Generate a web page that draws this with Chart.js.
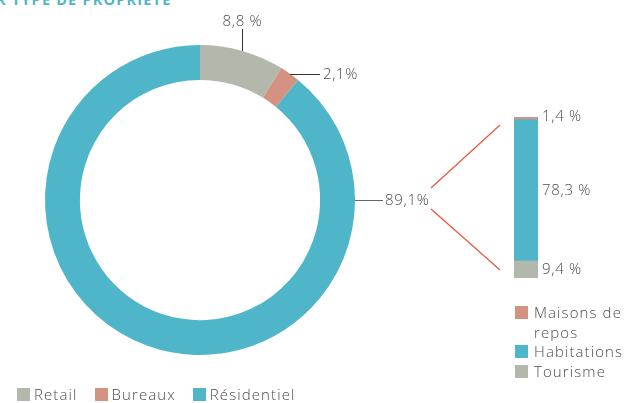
<!DOCTYPE html>
<html>
<head>
<meta charset="utf-8">
<script src="https://cdn.jsdelivr.net/npm/chart.js@4"></script>
<style>
  html, body { margin:0; padding:0; background:#fff; width:636px; height:403px; overflow:hidden; position:relative; font-family: "Open Sans", "Noto Sans", sans-serif; }
  canvas { position:absolute; left:0; top:0; }
  #title { position:absolute; left:-4px; top:-10px; font: bold 14.5px "Open Sans", "Noto Sans", sans-serif; letter-spacing:1.2px; color:#4fb5c8; white-space:nowrap; }
  .leg { position:absolute; font-size:15px; font-weight:300; letter-spacing:1.1px; color:#4d4d4d; line-height:19.5px; }
  .leg .sw { display:inline-block; width:13px; height:13px; vertical-align:-1px; margin-right:4px; }
  #legMain { left:17px; top:385px; white-space:nowrap; }
  #legMain span.item { margin-right:17px; }
  #legSub { left:515px; top:303px; width:121px; }
  #legSub div { position:relative; padding-left:19px; }
  #legSub .sw { position:absolute; left:0; top:3px; }
</style>
</head>
<body>
<div id="title">R TYPE DE PROPRIÉTÉ</div>
<canvas id="donut" width="636" height="403"></canvas>
<canvas id="bar" width="636" height="403"></canvas>
<div class="leg" id="legMain"></div>
<div class="leg" id="legSub"></div>
<script>
// ---- data ----
const mainCategories = ["Retail", "Bureaux", "Résidentiel"];
const mainValues = [8.8, 2.1, 89.1];
const mainLabels = ["8,8 %", "2,1%", "89,1%"];
const mainColors = ["#b3b8ad", "#d49282", "#4fb5c8"];

const subCategories = ["Tourisme", "Habitations", "Maisons de repos"]; // bottom to top
const subValues = [9.4, 78.3, 1.4];
const subLabels = ["9,4 %", "78,3 %", "1,4 %"];
const subColors = ["#b3b8ad", "#4fb5c8", "#d49282"];
const subTotal = 89.1;

const textColor = "#4d4d4d";
const fontSpec = '300 15px "Open Sans", "Noto Sans", sans-serif';
const labelSpacing = '0.7px';

// ---- donut labels plugin ----
const donutLabels = {
  id: 'donutLabels',
  afterDatasetsDraw(chart) {
    const ctx = chart.ctx;
    const arcs = chart.getDatasetMeta(0).data;
    ctx.save();
    ctx.font = fontSpec;
    ctx.letterSpacing = labelSpacing;
    ctx.fillStyle = textColor;
    ctx.strokeStyle = "#333";
    ctx.lineWidth = 1;
    arcs.forEach((arc, i) => {
      const R = arc.outerRadius;
      if (i === 0) {
        const a = (arc.startAngle + arc.endAngle) / 2;
        const x = Math.round(arc.x + R * Math.cos(a)) + 0.5;
        const y = arc.y + R * Math.sin(a);
        ctx.beginPath(); ctx.moveTo(x, y); ctx.lineTo(x, y - 22); ctx.stroke();
        ctx.textAlign = 'center'; ctx.textBaseline = 'alphabetic';
        ctx.fillText(mainLabels[i], x, y - 25);
      } else if (i === 1) {
        const a = (arc.startAngle + arc.endAngle) / 2;
        const x = arc.x + R * Math.cos(a);
        const y = Math.round(arc.y + R * Math.sin(a)) + 0.5;
        ctx.beginPath(); ctx.moveTo(x, y); ctx.lineTo(x + 30, y); ctx.stroke();
        ctx.textAlign = 'left'; ctx.textBaseline = 'middle';
        ctx.fillText(mainLabels[i], x + 33, y);
      } else {
        ctx.strokeStyle = "#666";
        const x = arc.x + R;
        const y = Math.round(arc.y) + 0.5;
        ctx.beginPath(); ctx.moveTo(x, y); ctx.lineTo(x + 28, y); ctx.stroke();
        ctx.textAlign = 'left'; ctx.textBaseline = 'middle';
        ctx.fillText(mainLabels[i], x + 30, y);
      }
    });
    ctx.restore();
  }
};

new Chart(document.getElementById('donut'), {
  type: 'doughnut',
  data: {
    labels: mainCategories,
    datasets: [{ data: mainValues, backgroundColor: mainColors, borderWidth: 0 }]
  },
  options: {
    responsive: false,
    animation: false,
    cutout: '77.5%',
    rotation: 0,
    layout: { padding: { left: 45, right: 281, top: 45, bottom: 48 } },
    plugins: { legend: { display: false }, tooltip: { enabled: false } }
  },
  plugins: [donutLabels]
});

// ---- bar labels + connectors plugin ----
const barLabels = {
  id: 'barLabels',
  afterDatasetsDraw(chart) {
    const ctx = chart.ctx;
    const area = chart.chartArea;
    ctx.save();
    ctx.strokeStyle = "#e8553a";
    ctx.lineWidth = 1.2;
    ctx.beginPath();
    ctx.moveTo(431, 188); ctx.lineTo(area.left - 14, area.top + 8);
    ctx.moveTo(431, 209); ctx.lineTo(area.left - 14, area.bottom - 8);
    ctx.stroke();
    ctx.font = fontSpec;
    ctx.letterSpacing = labelSpacing;
    ctx.fillStyle = textColor;
    ctx.textAlign = 'left';
    ctx.textBaseline = 'middle';
    chart.data.datasets.forEach((ds, i) => {
      const el = chart.getDatasetMeta(i).data[0];
      let y;
      if (i === 0) y = el.y + 9;
      else if (i === 2) y = el.y;
      else y = (el.y + el.base) / 2;
      ctx.fillText(subLabels[i], el.x + el.width / 2 + 4, y);
    });
    ctx.restore();
  }
};

new Chart(document.getElementById('bar'), {
  type: 'bar',
  data: {
    labels: [""],
    datasets: subCategories.map((c, i) => ({
      label: c, data: [subValues[i]], backgroundColor: subColors[i], borderWidth: 0,
      barPercentage: 1, categoryPercentage: 1
    }))
  },
  options: {
    responsive: false,
    animation: false,
    layout: { padding: { left: 514, right: 98, top: 117, bottom: 125 } },
    scales: {
      x: { stacked: true, display: false },
      y: { stacked: true, display: false, min: 0, max: subTotal }
    },
    plugins: { legend: { display: false }, tooltip: { enabled: false } }
  },
  plugins: [barLabels]
});

// ---- HTML legends ----
const legMain = document.getElementById('legMain');
mainCategories.forEach((c, i) => {
  const s = document.createElement('span');
  s.className = 'item';
  s.innerHTML = '<span class="sw" style="background:' + mainColors[i] + '"></span>' + c;
  legMain.appendChild(s);
});
const legSub = document.getElementById('legSub');
for (let i = subCategories.length - 1; i >= 0; i--) {
  const d = document.createElement('div');
  d.innerHTML = '<span class="sw" style="background:' + subColors[i] + '"></span>' + subCategories[i];
  legSub.appendChild(d);
}
</script>
</body>
</html>
